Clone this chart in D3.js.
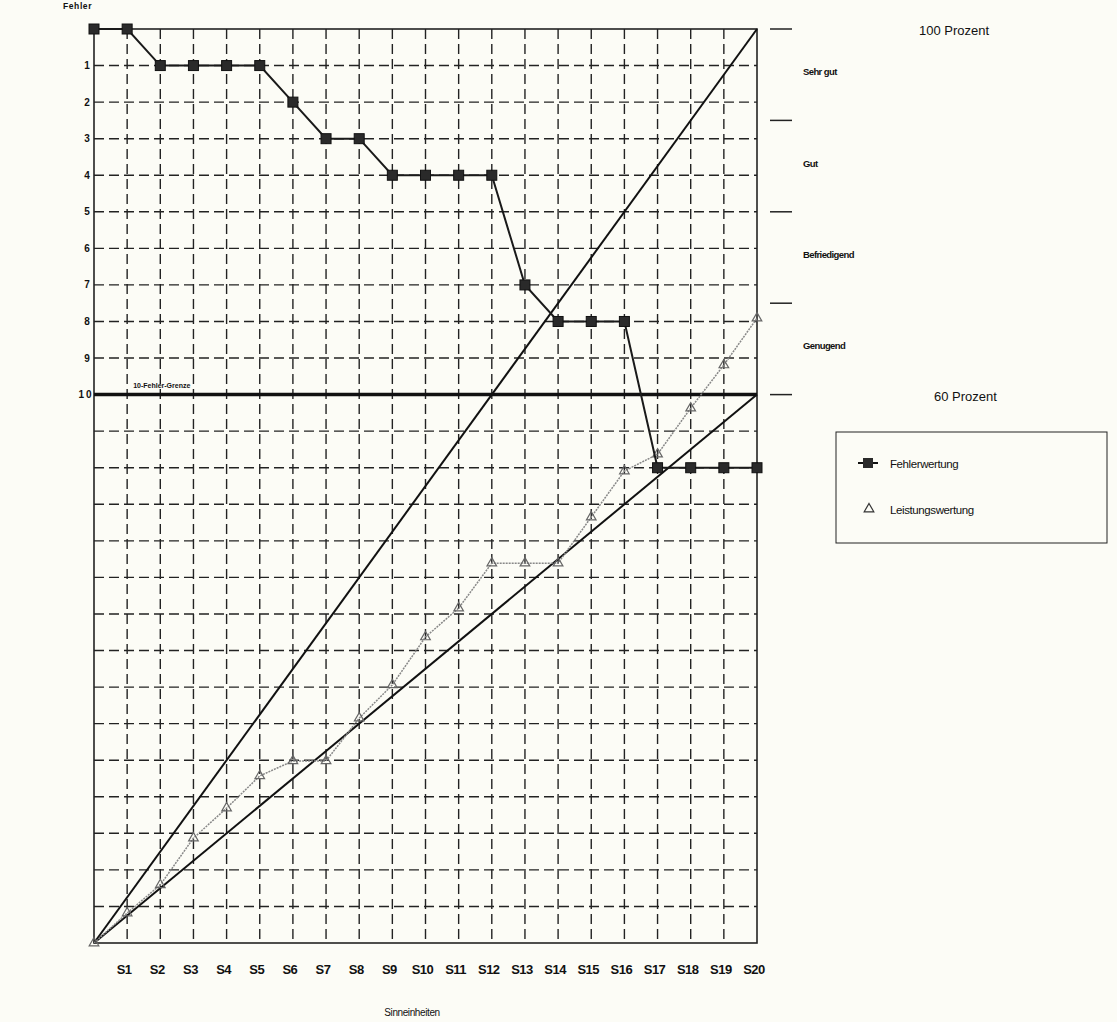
<!DOCTYPE html>
<html><head><meta charset="utf-8">
<script src="https://cdn.jsdelivr.net/npm/d3@7"></script>
<style>
html,body{margin:0;padding:0;background:#fcfcf6;}
svg{display:block;font-family:"Liberation Sans",Arial,sans-serif;}
</style></head>
<body>
<script>
// ---- data ----
const categories = ["", "S1","S2","S3","S4","S5","S6","S7","S8","S9","S10","S11","S12","S13","S14","S15","S16","S17","S18","S19","S20"];
const fehlerwertung = [0,0,1,1,1,1,2,3,3,4,4,4,4,7,8,8,8,12,12,12,12];
const leistungswertung = [0,0.82,1.59,2.87,3.69,4.57,4.98,4.98,6.15,7.06,8.37,9.16,10.39,10.39,10.39,11.65,12.91,13.37,14.63,15.81,17.09];
const fehlerTicks = [1,2,3,4,5,6,7,8,9];
const gradeBounds = [0,2.5,5,7.5,10];
const gradeLabels = ["Sehr gut","Gut","Befriedigend","Genugend"];
const percentLines = [{label:"100 Prozent", end:25},{label:"60 Prozent", end:15}];
const fehlerGrenze = 10;
const rows = 25;

// ---- layout ----
const W = 1117, H = 1022;
const L = 94, R = 757, T = 29, B = 943;
const svg = d3.select("body").append("svg").attr("width",W).attr("height",H);

const x = d3.scaleLinear().domain([0,categories.length-1]).range([L,R]);
const yF = d3.scaleLinear().domain([0,rows]).range([T,B]);   // Fehler, 0 at top
const yL = d3.scaleLinear().domain([0,rows]).range([B,T]);   // Leistung, 0 at bottom

const grid = svg.append("g").attr("stroke","#222").attr("stroke-width",1.4).attr("stroke-dasharray","10,5");
grid.selectAll(".v").data(d3.range(1,categories.length-1)).join("line")
  .attr("x1",d=>x(d)).attr("x2",d=>x(d)).attr("y1",T).attr("y2",B);
grid.selectAll(".h").data(d3.range(1,rows)).join("line")
  .attr("x1",L).attr("x2",R).attr("y1",d=>yF(d)).attr("y2",d=>yF(d));

// frame
svg.append("rect").attr("x",L).attr("y",T).attr("width",R-L).attr("height",B-T)
  .attr("fill","none").attr("stroke","#222").attr("stroke-width",1.6);

// 10-Fehler-Grenze
svg.append("line").attr("x1",L).attr("x2",R).attr("y1",yF(fehlerGrenze)).attr("y2",yF(fehlerGrenze))
  .attr("stroke","#111").attr("stroke-width",3.5);
svg.append("text").attr("x",x(1)+6).attr("y",yF(fehlerGrenze)-7).attr("font-size",7).attr("font-weight","bold")
  .attr("fill","#111").text("10-Fehler-Grenze");

// percent lines
svg.selectAll(".pct").data(percentLines).join("line")
  .attr("x1",x(0)).attr("y1",yL(0)).attr("x2",x(categories.length-1)).attr("y2",d=>yL(d.end))
  .attr("stroke","#111").attr("stroke-width",2);

// Leistungswertung
const lineL = d3.line().x((d,i)=>x(i)).y(d=>yL(d));
svg.append("path").datum(leistungswertung).attr("d",lineL).attr("fill","none")
  .attr("stroke","#888").attr("stroke-width",1.5).attr("stroke-dasharray","2,1");
const tri = d3.symbol().type(d3.symbolTriangle).size(40);
svg.selectAll(".tri").data(leistungswertung).join("path")
  .attr("d",tri).attr("transform",(d,i)=>`translate(${x(i)},${yL(d)})`)
  .attr("fill","none").attr("stroke","#666").attr("stroke-width",1.2);

// Fehlerwertung
const lineF = d3.line().x((d,i)=>x(i)).y(d=>yF(d));
svg.append("path").datum(fehlerwertung).attr("d",lineF).attr("fill","none")
  .attr("stroke","#1a1a1a").attr("stroke-width",2);
svg.selectAll(".sq").data(fehlerwertung).join("rect")
  .attr("x",(d,i)=>x(i)-5).attr("y",d=>yF(d)-5).attr("width",10).attr("height",10)
  .attr("fill","#2a2a2a").attr("stroke","#111").attr("stroke-width",1);

// left axis labels
svg.append("text").attr("x",63).attr("y",9).attr("font-size",8.5).attr("font-weight","bold")
  .attr("letter-spacing",0.6).attr("fill","#111").text("Fehler");
svg.selectAll(".yt").data(fehlerTicks).join("text")
  .attr("x",87).attr("y",d=>yF(d)+3.5).attr("text-anchor","middle").attr("font-size",10).attr("font-weight","bold")
  .attr("fill","#111").text(d=>d);
svg.append("text").attr("x",86).attr("y",yF(fehlerGrenze)+3.5).attr("text-anchor","middle").attr("font-size",10)
  .attr("font-weight","bold").attr("letter-spacing",2).attr("fill","#111").text(String(fehlerGrenze));

// right grade ticks and labels
svg.selectAll(".gt").data(gradeBounds).join("line")
  .attr("x1",770).attr("x2",792).attr("y1",d=>yF(d)).attr("y2",d=>yF(d))
  .attr("stroke","#222").attr("stroke-width",1.5);
svg.selectAll(".gl").data(gradeLabels).join("text")
  .attr("x",803).attr("y",(d,i)=>yF((gradeBounds[i]+gradeBounds[i+1])/2)+0.5)
  .attr("font-size",9.5).attr("font-weight","bold").attr("fill","#111").attr("letter-spacing",-0.6).text(d=>d);

svg.selectAll(".pl").data(percentLines).join("text")
  .attr("x",(d,i)=>i===0?919:934).attr("y",d=>yL(d.end)+6).attr("font-size",13).attr("fill","#111").text(d=>d.label);

// x labels
svg.selectAll(".xl").data(categories).join("text")
  .attr("x",(d,i)=>x(i)-3).attr("y",974).attr("text-anchor","middle").attr("font-size",13).attr("font-weight","bold")
  .attr("letter-spacing",-0.5).attr("fill","#111").text(d=>d);
svg.append("text").attr("x",412).attr("y",1016).attr("text-anchor","middle").attr("font-size",10).attr("letter-spacing",-0.4)
  .attr("fill","#111").text("Sinneinheiten");

// legend
const lg = svg.append("g");
lg.append("rect").attr("x",836).attr("y",432).attr("width",271).attr("height",111).attr("fill","none").attr("stroke","#222").attr("stroke-width",1);
lg.append("line").attr("x1",858).attr("x2",878).attr("y1",463).attr("y2",463).attr("stroke","#111").attr("stroke-width",2);
lg.append("rect").attr("x",863).attr("y",458).attr("width",10).attr("height",10).attr("fill","#2a2a2a");
lg.append("text").attr("x",890).attr("y",468).attr("font-size",11.5).attr("letter-spacing",-0.4).attr("fill","#111").text("Fehlerwertung");
lg.append("path").attr("d",tri).attr("transform","translate(869,509)").attr("fill","none").attr("stroke","#333").attr("stroke-width",1.2);
lg.append("text").attr("x",890).attr("y",514).attr("font-size",11.5).attr("letter-spacing",-0.4).attr("fill","#111").text("Leistungswertung");
</script>
</body></html>
